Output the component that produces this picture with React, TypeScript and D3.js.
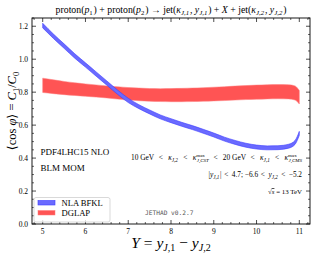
import React from "react";
import * as d3 from "d3";

const Y_VALUES = [5, 5.25, 5.5, 5.75, 6, 6.25, 6.5, 6.75, 7, 7.25, 7.5, 7.75, 8, 8.25, 8.5, 8.75, 9, 9.25, 9.5, 9.75, 10, 10.25, 10.5, 10.75, 10.9, 11];
const NLA_HIGH = [1.218, 1.153, 1.093, 1.033, 0.978, 0.923, 0.868, 0.813, 0.763, 0.724, 0.692, 0.662, 0.639, 0.617, 0.597, 0.575, 0.552, 0.527, 0.507, 0.49, 0.479, 0.474, 0.475, 0.484, 0.507, 0.562];
const NLA_LOW = [1.19, 1.126, 1.066, 1.006, 0.952, 0.897, 0.842, 0.787, 0.737, 0.7, 0.668, 0.638, 0.615, 0.593, 0.573, 0.551, 0.528, 0.503, 0.483, 0.466, 0.455, 0.45, 0.451, 0.46, 0.483, 0.538];
const DGLAP_HIGH = [0.885, 0.875, 0.865, 0.857, 0.85, 0.844, 0.838, 0.833, 0.828, 0.825, 0.822, 0.821, 0.822, 0.823, 0.825, 0.827, 0.83, 0.833, 0.837, 0.84, 0.843, 0.845, 0.846, 0.845, 0.838, 0.81];
const DGLAP_LOW = [0.798, 0.791, 0.785, 0.78, 0.775, 0.77, 0.765, 0.758, 0.752, 0.748, 0.745, 0.743, 0.742, 0.742, 0.743, 0.745, 0.747, 0.749, 0.752, 0.755, 0.757, 0.759, 0.76, 0.759, 0.752, 0.728];
const X_TICKS = [5, 6, 7, 8, 9, 10, 11];
const Y_TICKS = [0, 0.2, 0.4, 0.6, 0.8, 1.0, 1.2];

const W = 316, H = 257;
const M = { left: 32, right: 310, top: 18, bottom: 224 };
const SERIF = "'Liberation Serif', 'DejaVu Serif', serif";
const BLUE_FILL = "#6a6aff";
const BLUE_EDGE = "#3c3cff";
const RED_FILL = "#ff5454";
const RED_EDGE = "#ff7a7a";

export default function App() {
  const x = d3.scaleLinear().domain([4.75, 11.25]).range([M.left, M.right]);
  const y = d3.scaleLinear().domain([0, 1.25]).range([M.bottom, M.top]);
  const area = (lo: number[], hi: number[]) =>
    d3.area<number>()
      .x((_, i) => x(Y_VALUES[i]))
      .y0((_, i) => y(lo[i]))
      .y1((_, i) => y(hi[i]))
      .curve(d3.curveMonotoneX)(Y_VALUES) || "";

  const xMinor = d3.range(4.8, 11.25, 0.2).map(v => +v.toFixed(2));
  const yMinor = d3.range(0, 1.251, 0.05).map(v => +v.toFixed(2));

  const sub = (t: string, fs = 6.5, italic = true, d = 2) => [
    <tspan key="a" dy={d} fontSize={fs} fontStyle={italic ? "italic" : "normal"}>{t}</tspan>,
    <tspan key="b" dy={-d}>{"\u200A"}</tspan>,
  ];
  const rel = (s: string, g = 2.8) => <tspan dx={g}>{s}<tspan dx={g}>{"\u200A"}</tspan></tspan>;

  return (
    <svg width={W} height={H} style={{ position: "absolute", left: 0, top: 0, background: "#fff" }} fontFamily={SERIF}>
      <defs>
        <clipPath id="plotClip">
          <rect x={M.left} y={M.top} width={M.right - M.left} height={M.bottom - M.top} />
        </clipPath>
      </defs>

      <g clipPath="url(#plotClip)">
        <path d={area(DGLAP_LOW, DGLAP_HIGH)} fill={RED_FILL} stroke={RED_EDGE} strokeWidth={0.5} />
        <path d={area(NLA_LOW, NLA_HIGH)} fill={BLUE_FILL} stroke={BLUE_EDGE} strokeWidth={0.6} />
      </g>

      {/* frame */}
      <rect x={M.left} y={M.top} width={M.right - M.left} height={M.bottom - M.top} fill="none" stroke="#000" strokeWidth={0.9} />

      {/* ticks */}
      {X_TICKS.map(v => (
        <g key={"xt" + v}>
          <line x1={x(v)} x2={x(v)} y1={M.bottom} y2={M.bottom - 4} stroke="#000" strokeWidth={0.7} />
          <line x1={x(v)} x2={x(v)} y1={M.top} y2={M.top + 4} stroke="#000" strokeWidth={0.7} />
          <text x={x(v)} y={233.5} fontSize={7.5} textAnchor="middle">{v}</text>
        </g>
      ))}
      {xMinor.filter(v => !X_TICKS.includes(v)).map(v => (
        <g key={"xm" + v}>
          <line x1={x(v)} x2={x(v)} y1={M.bottom} y2={M.bottom - 2} stroke="#000" strokeWidth={0.6} />
          <line x1={x(v)} x2={x(v)} y1={M.top} y2={M.top + 2} stroke="#000" strokeWidth={0.6} />
        </g>
      ))}
      {Y_TICKS.map(v => (
        <g key={"yt" + v}>
          <line x1={M.left} x2={M.left + 4} y1={y(v)} y2={y(v)} stroke="#000" strokeWidth={0.7} />
          <line x1={M.right} x2={M.right - 4} y1={y(v)} y2={y(v)} stroke="#000" strokeWidth={0.7} />
          <text x={28} y={y(v) + 2.5} fontSize={7.5} textAnchor="end">{v.toFixed(1)}</text>
        </g>
      ))}
      {yMinor.filter(v => !Y_TICKS.some(t => Math.abs(t - v) < 1e-6)).map(v => (
        <g key={"ym" + v}>
          <line x1={M.left} x2={M.left + 2} y1={y(v)} y2={y(v)} stroke="#000" strokeWidth={0.6} />
          <line x1={M.right} x2={M.right - 2} y1={y(v)} y2={y(v)} stroke="#000" strokeWidth={0.6} />
        </g>
      ))}

      {/* title */}
      <text x={171} y={12.5} fontSize={9.8} textAnchor="middle">
        proton(<tspan fontStyle="italic">p</tspan>{sub("1", 6.8, false)}) + proton(<tspan fontStyle="italic">p</tspan>{sub("2", 6.8, false)}) → jet(<tspan fontStyle="italic">κ</tspan>{sub("J,1", 6.8)}, <tspan fontStyle="italic">y</tspan>{sub("J,1", 6.8)}) + <tspan fontStyle="italic">X</tspan> + jet(<tspan fontStyle="italic">κ</tspan>{sub("J,2", 6.8)}, <tspan fontStyle="italic">y</tspan>{sub("J,2", 6.8)})
      </text>

      {/* y label */}
      <text transform="translate(16,111) rotate(-90)" fontSize={12.5} textAnchor="middle">
        ⟨cos <tspan fontStyle="italic">φ</tspan>⟩ = <tspan fontStyle="italic">C</tspan><tspan dy={2.5} fontSize={8.5}>1</tspan><tspan dy={-2.5}>/</tspan><tspan fontStyle="italic">C</tspan><tspan dy={2.5} fontSize={8.5}>0</tspan>
      </text>

      {/* x label */}
      <text x={171} y={248} fontSize={15.5} textAnchor="middle">
        <tspan fontStyle="italic">Y</tspan> = <tspan fontStyle="italic">y</tspan><tspan dy={3} fontSize={10} fontStyle="italic">J,</tspan><tspan fontSize={10}>1</tspan><tspan dy={-3}> − </tspan><tspan fontStyle="italic">y</tspan><tspan dy={3} fontSize={10} fontStyle="italic">J,</tspan><tspan fontSize={10}>2</tspan>
      </text>

      {/* left annotations */}
      <text x={40.5} y={154.5} fontSize={9}>PDF4LHC15 NLO</text>
      <text x={40.5} y={170.5} fontSize={9}>BLM MOM</text>

      {/* right annotations */}
      <text x={302} y={160} fontSize={7.4} textAnchor="end">
        10 GeV {rel("<")} <tspan fontStyle="italic">κ</tspan>{sub("J,2", 5.2)} {rel("<")} <tspan fontStyle="italic">κ</tspan><tspan dy={-3} fontSize={5}>max</tspan><tspan dx={-8.2} dy={5.2} fontSize={5} fontStyle="italic">J,CST</tspan><tspan dy={-2.2}> </tspan>{rel("<")} 20 GeV {rel("<")} <tspan fontStyle="italic">κ</tspan>{sub("J,1", 5.2)} {rel("<")} <tspan fontStyle="italic">κ</tspan><tspan dy={-3} fontSize={5}>max</tspan><tspan dx={-8.2} dy={5.2} fontSize={5} fontStyle="italic">J,CMS</tspan>
      </text>
      <text x={302} y={176.5} fontSize={7.3} textAnchor="end">
        |<tspan fontStyle="italic">y</tspan>{sub("J,1", 5.1)}| {rel("<", 1)} 4.7;  −6.6 {rel("<", 1)} <tspan fontStyle="italic">y</tspan>{sub("J,2", 5.1)} {rel("<", 1)} −5.2
      </text>
      <text x={302} y={194} fontSize={6.9} textAnchor="end">
        √<tspan textDecoration="overline" fontStyle="italic">s</tspan> = 13 TeV
      </text>
      <text x={145} y={215} fontSize={6.2} fontFamily="'DejaVu Sans Mono', monospace" fill="#555">JETHAD v0.2.7</text>

      {/* legend */}
      <rect x={34} y={197.5} width={76} height={24.5} rx={2} fill="#fff" fillOpacity={0.8} stroke="#cfcfcf" strokeWidth={0.8} />
      <rect x={38} y={200.5} width={17} height={4.5} fill={BLUE_FILL} stroke={BLUE_EDGE} strokeWidth={0.6} />
      <text x={61.5} y={205.5} fontSize={8.6}>NLA BFKL</text>
      <rect x={38} y={210.5} width={17} height={4.5} fill={RED_FILL} stroke={RED_EDGE} strokeWidth={0.5} />
      <text x={61.5} y={215.8} fontSize={8.6}>DGLAP</text>
    </svg>
  );
}
